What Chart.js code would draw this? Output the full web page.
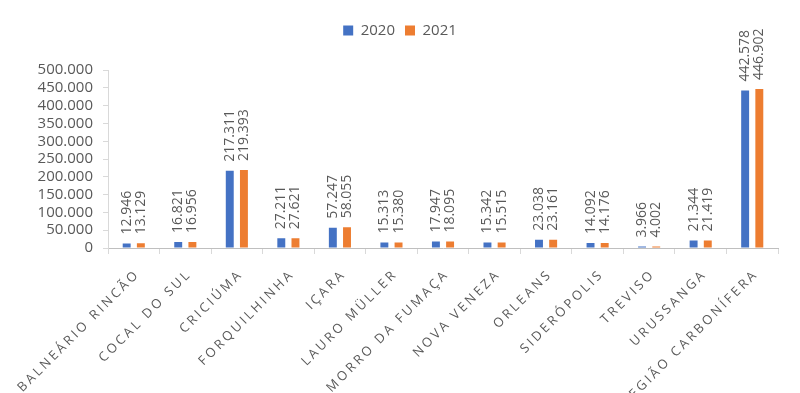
<!DOCTYPE html>
<html lang="pt-BR">
<head>
<meta charset="utf-8">
<title>Região Carbonífera 2020 x 2021</title>
<script src="https://cdn.jsdelivr.net/npm/chart.js@4.4.1/dist/chart.umd.min.js"></script>
<style>
    html, body { margin: 0; padding: 0; background: #fff; }
    #box { width: 800px; height: 393px; position: relative; }
</style>
</head>
<body>
<div id="box"><canvas id="grafico"></canvas></div>
<script>
const categorias = ['BALNEÁRIO RINCÃO', 'COCAL DO SUL', 'CRICIÚMA', 'FORQUILHINHA', 'IÇARA', 'LAURO MÜLLER',
    'MORRO DA FUMAÇA', 'NOVA VENEZA', 'ORLEANS', 'SIDERÓPOLIS', 'TREVISO', 'URUSSANGA', 'REGIÃO CARBONÍFERA'];
const valores2020 = [12946, 16821, 217311, 27211, 57247, 15313, 17947, 15342, 23038, 14092, 3966, 21344, 442578];
const valores2021 = [13129, 16956, 219393, 27621, 58055, 15380, 18095, 15515, 23161, 14176, 4002, 21419, 446902];
const ticksY = [0, 50000, 100000, 150000, 200000, 250000, 300000, 350000, 400000, 450000, 500000];

const cinza = '#595959';
const fonte = '"Open Sans", "Noto Sans", sans-serif';

// formata com ponto de milhar (padrão brasileiro)
function formatar(v) {
    return String(v).replace(/\B(?=(\d{3})+(?!\d))/g, '.');
}

// rótulos de valor na vertical, acima de cada barra
const rotulosBarras = {
    id: 'rotulosBarras',
    afterDatasetsDraw(chart) {
        const ctx = chart.ctx;
        ctx.save();
        ctx.font = '14px ' + fonte;
        ctx.fillStyle = cinza;
        ctx.textAlign = 'left';
        ctx.textBaseline = 'middle';
        chart.data.datasets.forEach((ds, di) => {
            chart.getDatasetMeta(di).data.forEach((bar, i) => {
                ctx.save();
                ctx.translate(bar.x, bar.y - 9);
                ctx.rotate(-Math.PI / 2);
                ctx.fillText(formatar(ds.data[i]), 0, 0);
                ctx.restore();
            });
        });
        ctx.restore();
    }
};

// nomes dos municípios inclinados, letra por letra para ter espaçamento
const espacoLetra = 2.8;
const rotulosX = {
    id: 'rotulosX',
    afterDraw(chart) {
        const xs = chart.scales.x;
        const ctx = chart.ctx;
        ctx.save();
        ctx.font = '13px ' + fonte;
        ctx.fillStyle = cinza;
        ctx.textAlign = 'left';
        ctx.textBaseline = 'middle';
        categorias.forEach((nome, i) => {
            const letras = Array.from(nome);
            const larguras = letras.map(l => ctx.measureText(l).width);
            const total = larguras.reduce((a, b) => a + b, 0) + espacoLetra * (letras.length - 1);
            const x = xs.getPixelForTick(i);
            ctx.save();
            ctx.translate(x + 2, xs.top + 26);
            ctx.rotate(-45 * Math.PI / 180);
            let pos = -total;
            letras.forEach((l, k) => {
                ctx.fillText(l, pos, 0);
                pos += larguras[k] + espacoLetra;
            });
            ctx.restore();
        });
        ctx.restore();
    }
};

const ctx = document.getElementById('grafico').getContext('2d');
new Chart(ctx, {
    type: 'bar',
    data: {
        labels: categorias,
        datasets: [
            {
                label: '2020',
                data: valores2020,
                backgroundColor: '#4472C4',
                categoryPercentage: 0.55,
                barPercentage: 0.56
            },
            {
                label: '2021',
                data: valores2021,
                backgroundColor: '#ED7D31',
                categoryPercentage: 0.55,
                barPercentage: 0.56
            }
        ]
    },
    options: {
        responsive: true,
        maintainAspectRatio: false,
        animation: false,
        layout: {
            padding: { top: 13, right: 0, left: 0, bottom: 0 }
        },
        plugins: {
            legend: {
                position: 'top',
                labels: {
                    boxWidth: 10,
                    boxHeight: 10,
                    padding: 10,
                    color: cinza,
                    font: { family: fonte, size: 15 }
                }
            },
            // espaço vazio entre a legenda e o gráfico
            subtitle: {
                display: true,
                text: '',
                weight: 500,
                font: { size: 1 },
                padding: { top: 0, bottom: 21 }
            },
            tooltip: { enabled: false }
        },
        scales: {
            x: {
                grid: {
                    display: true,
                    offset: true,
                    drawOnChartArea: false,
                    drawTicks: true,
                    tickLength: 6,
                    color: '#d9d9d9'
                },
                border: { display: true, color: '#bfbfbf' },
                ticks: { display: false },
                afterFit: (scale) => {
                    scale.height = 145;
                    scale.paddingLeft = 0;
                    scale.paddingRight = 22;
                }
            },
            y: {
                min: 0,
                max: 500000,
                afterBuildTicks: (scale) => {
                    scale.ticks = ticksY.map(v => ({ value: v }));
                },
                grid: {
                    display: true,
                    drawOnChartArea: false,
                    drawTicks: true,
                    tickLength: 5,
                    color: '#d9d9d9'
                },
                border: { display: true, color: '#d9d9d9' },
                ticks: {
                    autoSkip: false,
                    color: cinza,
                    padding: 10,
                    font: { family: fonte, size: 15 },
                    callback: (v) => formatar(v)
                },
                afterFit: (scale) => {
                    scale.width = 108;
                }
            }
        }
    },
    plugins: [rotulosBarras, rotulosX]
});
</script>
</body>
</html>
